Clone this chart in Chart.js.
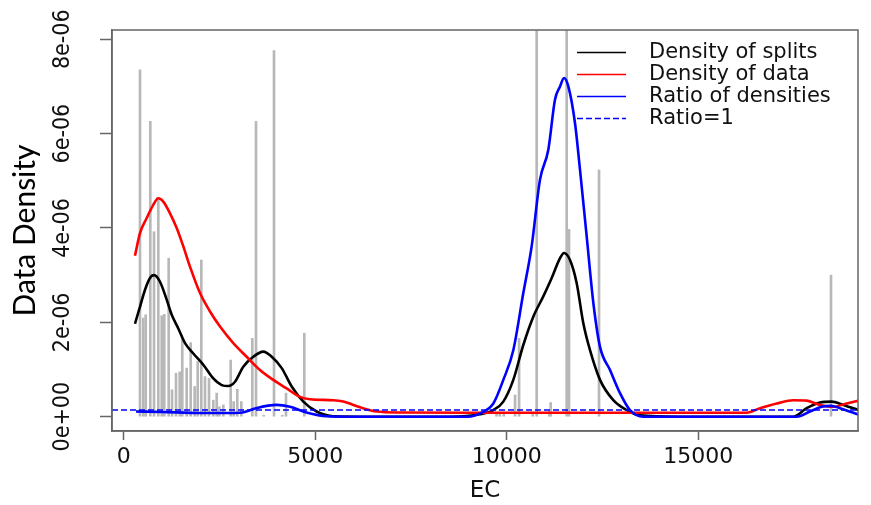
<!DOCTYPE html>
<html>
<head>
<meta charset="utf-8">
<script src="https://cdn.jsdelivr.net/npm/chart.js@4.4.0/dist/chart.umd.min.js"></script>
<style>
html,body{margin:0;padding:0;background:#fff;}
#wrap{width:871px;height:505px;position:relative;}
</style>
</head>
<body>
<div id="wrap"><canvas id="c" width="871" height="505"></canvas></div>
<script>
// ---------- data (density values in units of 1e-6) ----------
const UNIT = 1e-6;
const xTickValues = [0, 5000, 10000, 15000];
const xTickLabels = ['0', '5000', '10000', '15000'];
const yTickValues = [0, 2e-6, 4e-6, 6e-6, 8e-6];
const yTickLabels = ['0e+00', '2e-06', '4e-06', '6e-06', '8e-06'];
const xRange = [-308, 19170];
const yRange = [-0.303e-6, 8.196e-6];

const seriesLabels = ['Density of splits', 'Density of data', 'Ratio of densities', 'Ratio=1'];

// split locations (gray spikes)
const spikeX = [423,509,572,692,789,901,990,1057,1172,1259,1363,1460,1527,1642,1747,1851,1930,2024,2120,2225,2337,2426,2494,2598,2791,2869,2963,3068,3355,3452,3653,3922,4138,4235,4713,9731,9818,9922,10216,10321,10677,10781,11110,11146,11564,11624,12408,18465];
const spikeH = [7.35,2.09,2.16,6.26,3.92,4.6,2.14,2.17,3.36,0.57,0.92,0.95,1.66,1.03,1.57,0.64,1.17,3.32,0.85,0.81,0.35,0.50,0.21,0.25,1.20,0.32,0.58,0.32,1.66,6.26,0.03,7.76,0.03,0.50,1.77,0.08,0.08,0.08,0.46,1.66,0.10,8.5,0.12,0.30,8.5,3.97,5.23,3.0];

// density of splits (black)
const splitsX = [292,423,554,684,789,945,1120,1251,1423,1598,1815,2076,2337,2556,2728,2903,3120,3381,3642,3862,4123,4384,4687,5037,5470,6500,8500,9300,9648,9909,10170,10431,10692,10953,11173,11390,11494,11650,11825,11998,12173,12434,12781,13131,13478,14500,16500,17480,17830,18178,18483,18786,19178];
const splitsY = [1.97,2.33,2.69,2.94,3.00,2.86,2.48,2.16,1.87,1.56,1.34,1.10,0.81,0.67,0.65,0.74,1.06,1.27,1.38,1.27,1.03,0.64,0.32,0.11,0.01,0,0,0.05,0.14,0.32,0.78,1.52,2.12,2.55,2.94,3.36,3.47,3.32,2.83,1.98,1.41,0.78,0.35,0.14,0.03,0,0,0,0.18,0.30,0.32,0.25,0.14];

// density of data (red)
const dataX = [292,423,598,770,901,1031,1206,1381,1554,1728,1990,2251,2512,2859,3209,3556,3903,4253,4601,4862,5470,5731,6167,6603,7212,9000,12000,16264,16612,17047,17481,17830,18178,18525,18875,19196];
const dataY = [3.41,3.89,4.21,4.49,4.63,4.56,4.31,4.00,3.61,3.18,2.62,2.23,1.91,1.56,1.27,0.99,0.78,0.60,0.42,0.37,0.35,0.32,0.20,0.11,0.09,0.085,0.085,0.085,0.18,0.28,0.35,0.34,0.25,0.21,0.28,0.34];

// ratio of densities (blue)
const ratioX = [319,1000,2000,2900,3100,3450,3990,4340,4770,5290,6000,9000,9300,9648,9909,10170,10431,10649,10866,11084,11258,11390,11494,11607,11781,11912,12086,12260,12434,12695,12956,13217,13565,17568,17917,18221,18465,18700,19196];
const ratioY = [0.11,0.10,0.08,0.08,0.09,0.18,0.25,0.21,0.09,0.01,0,0,0.07,0.28,0.78,1.41,2.62,3.61,5.02,5.66,6.72,7.00,7.18,7.00,6.22,5.23,3.82,2.41,1.48,0.99,0.50,0.14,0,0,0.11,0.21,0.23,0.18,0.04];

// reference level "Ratio=1"
const ratioOneLevel = 0.142;

// ---------- helpers ----------
const toPts = (xs, ys) => xs.map((x, i) => ({x: x, y: ys[i] * UNIT}));

const framePlugin = {
  id: 'frame',
  afterDatasetsDraw(chart) {
    const a = chart.chartArea, c = chart.ctx;
    c.save();
    c.strokeStyle = '#666';
    c.lineWidth = 1.5;
    c.strokeRect(a.left, a.top, a.right - a.left, a.bottom - a.top);
    c.restore();
  }
};

const legendPlugin = {
  id: 'rlegend',
  afterDraw(chart) {
    const c = chart.ctx;
    const items = chart.data.datasets.filter(d => d.label);
    c.save();
    c.font = '21px "DejaVu Sans", sans-serif';
    c.textBaseline = 'middle';
    c.fillStyle = '#111';
    items.forEach((d, i) => {
      const y = 52.5 + i * 22;
      c.beginPath();
      c.strokeStyle = d.borderColor;
      c.lineWidth = 1.5;
      c.setLineDash(d.borderDash || []);
      c.moveTo(577, y);
      c.lineTo(626, y);
      c.stroke();
      c.setLineDash([]);
      c.fillText(d.label, 649, y);
    });
    c.restore();
  }
};

const lineDefaults = {type: 'line', pointRadius: 0, borderWidth: 2.6, fill: false, cubicInterpolationMode: 'monotone', clip: 0};

new Chart(document.getElementById('c'), {
  type: 'line',
  data: {
    datasets: [
      Object.assign({}, lineDefaults, {label: seriesLabels[0], data: toPts(splitsX, splitsY), borderColor: '#000000', order: 3}),
      Object.assign({}, lineDefaults, {label: seriesLabels[1], data: toPts(dataX, dataY), borderColor: '#ff0000', order: 2}),
      Object.assign({}, lineDefaults, {label: seriesLabels[2], data: toPts(ratioX, ratioY), borderColor: '#0000ff', order: 1}),
      Object.assign({}, lineDefaults, {label: seriesLabels[3], data: [{x: xRange[0], y: ratioOneLevel * UNIT}, {x: xRange[1], y: ratioOneLevel * UNIT}], borderColor: '#0000ff', borderWidth: 1.3, borderDash: [6, 3], cubicInterpolationMode: 'default', order: 0}),
      {type: 'bar', data: toPts(spikeX, spikeH), backgroundColor: '#b8b8b8', borderWidth: 0, barThickness: 2, order: 10, clip: 0}
    ]
  },
  options: {
    responsive: false,
    animation: false,
    devicePixelRatio: 1,
    events: [],
    layout: {padding: {top: 30, right: 13, bottom: 0, left: 0}},
    plugins: {legend: {display: false}, tooltip: {enabled: false}},
    scales: {
      x: {
        type: 'linear', min: xRange[0], max: xRange[1], offset: false,
        afterBuildTicks: s => { s.ticks = xTickValues.map(v => ({value: v})); },
        afterFit: s => { s.height = 74; },
        ticks: {
          autoSkip: false, maxRotation: 0, padding: 4, color: '#111',
          font: {family: '"DejaVu Sans", sans-serif', size: 22},
          callback: v => xTickLabels[xTickValues.indexOf(v)]
        },
        grid: {drawOnChartArea: false, drawTicks: true, tickLength: 9, tickWidth: 1.5, tickColor: '#666', offset: false},
        border: {display: true, color: '#666', width: 1.5},
        title: {display: true, text: 'EC', color: '#111', padding: {top: 0, bottom: 0},
          font: {family: '"DejaVu Sans", sans-serif', size: 23, lineHeight: 1.2}}
      },
      y: {
        type: 'linear', min: yRange[0], max: yRange[1],
        afterBuildTicks: s => { s.ticks = yTickValues.map(v => ({value: v})); },
        afterFit: s => { s.width = 112; },
        ticks: {
          autoSkip: false, minRotation: 90, maxRotation: 90, crossAlign: 'center', padding: 2, color: '#111',
          font: {family: '"Liberation Sans Narrow", "Arial Narrow", "DejaVu Sans Condensed", sans-serif', size: 23},
          callback: v => yTickLabels[yTickValues.indexOf(v)]
        },
        grid: {drawOnChartArea: false, drawTicks: true, tickLength: 12, tickWidth: 1.5, tickColor: '#666'},
        border: {display: true, color: '#666', width: 1.5},
        title: {display: true, text: 'Data Density', color: '#000', padding: {top: 7, bottom: 0},
          font: {family: 'Lato, sans-serif', size: 30, lineHeight: 1.2}}
      }
    }
  },
  plugins: [framePlugin, legendPlugin]
});
</script>
</body>
</html>
